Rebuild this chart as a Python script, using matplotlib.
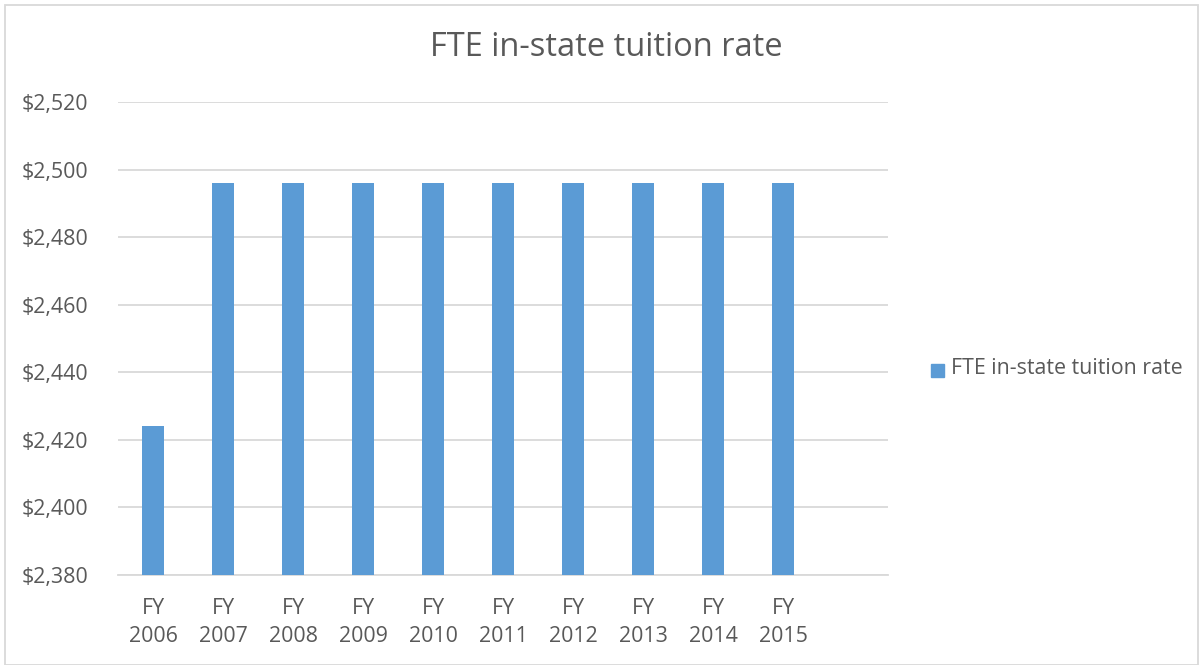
import matplotlib
matplotlib.use("Agg")
import matplotlib.pyplot as plt
from matplotlib.patches import Rectangle
from matplotlib.ticker import FuncFormatter

categories = ["FY\n2006", "FY\n2007", "FY\n2008", "FY\n2009", "FY\n2010",
              "FY\n2011", "FY\n2012", "FY\n2013", "FY\n2014", "FY\n2015"]
values = [2424, 2496, 2496, 2496, 2496, 2496, 2496, 2496, 2496, 2496]
series_name = "FTE in-state tuition rate"

W, H = 1201, 665
fig = plt.figure(figsize=(W / 100, H / 100), dpi=100)
plt.rcParams['font.family'] = ['Open Sans', 'DejaVu Sans']
text_color = "#595959"
bar_color = "#5B9BD5"
fs = 15.4

ax = fig.add_axes([118 / W, 1 - 575 / H, (888 - 118) / W, (575 - 102) / H])
x = list(range(len(categories)))
ax.bar(x, values, width=0.31, color=bar_color, label=series_name, zorder=3)
ax.set_xlim(-0.5, 10.5)
ax.set_ylim(2380, 2520)
ax.set_yticks(range(2380, 2521, 20))
ax.yaxis.set_major_formatter(FuncFormatter(lambda v, p: f"${v:,.0f}"))
ax.set_xticks(x)
ax.set_xticklabels(categories, linespacing=1.45)
ax.grid(axis="y", color="#D9D9D9", linewidth=1.3, zorder=0)
for s in ["top", "right", "left"]:
    ax.spines[s].set_visible(False)
ax.spines["bottom"].set_color("#D9D9D9")
ax.spines["bottom"].set_linewidth(1.3)
ax.tick_params(axis="both", length=0, labelsize=fs, colors=text_color)
ax.tick_params(axis="y", pad=21.5)
ax.tick_params(axis="x", pad=16.5)

fig.text(606 / W, 1 - 48 / H, series_name, ha="center", va="center",
         fontsize=23.5, color=text_color)

# legend
fig.patches.append(Rectangle((931 / W, 1 - 377 / H), 13 / W, 13 / H,
                             transform=fig.transFigure, color=bar_color))
fig.text(951 / W, 1 - 369 / H, series_name, ha="left", va="center",
         fontsize=fs, color=text_color)

# chart border
fig.patches.append(Rectangle((5 / W, 0), (W - 8) / W, 1 - 5 / H,
                             transform=fig.transFigure, fill=False,
                             edgecolor="#D9D9D9", linewidth=1.3))

fig.savefig("out.png", dpi=100)
